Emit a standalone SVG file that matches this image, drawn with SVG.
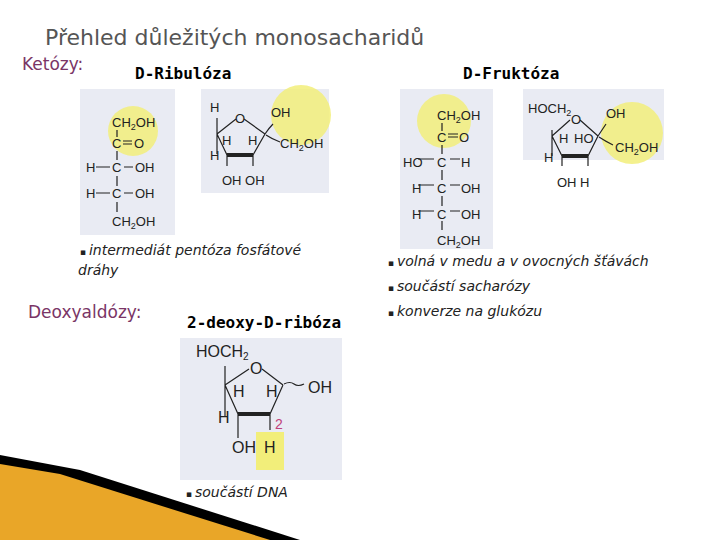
<svg xmlns="http://www.w3.org/2000/svg" width="720" height="540" viewBox="0 0 720 540">
<style>
.c{font-family:"Liberation Sans",Arial,sans-serif;font-size:13px;fill:#222}
.d{font-family:"Liberation Sans",Arial,sans-serif;font-size:16px;fill:#222}
.b{stroke:#222;stroke-width:1.2;fill:none}
.bg{fill:#e9ebf3}
.y{fill:#f2ee7a;opacity:.85}
.h{font-family:"DejaVu Sans Mono",monospace;font-size:16px;font-weight:bold;fill:#000}
.i{font-family:"DejaVu Sans",sans-serif;font-style:italic;font-size:14px;fill:#222}
.k{font-family:"DejaVu Sans",sans-serif;font-size:17px;fill:#7a3566}
</style>
<rect width="720" height="540" fill="#fff"/>
<g id="deco">
<polygon points="0,455 80,470 300,540 0,540" fill="#000"/>
<polygon points="0,464 60,474 270,540 0,540" fill="#e9a628"/>
</g>
<text x="45" y="45" font-family="DejaVu Sans,sans-serif" font-size="22" fill="#555">Přehled důležitých monosacharidů</text>
<text class="k" x="22" y="70">Ketózy:</text>
<text class="h" x="135" y="79">D-Ribulóza</text>
<text class="h" x="463" y="79">D-Fruktóza</text>

<g id="ribulose-fischer">
<rect class="bg" x="80" y="89" width="95" height="146"/>
<circle class="y" cx="133" cy="131" r="25"/>
<text class="c" x="112" y="127">CH<tspan font-size="9" dy="3">2</tspan><tspan dy="-3">OH</tspan></text>
<path class="b" d="M117,130v7M117,151v9M117,176v10M117,202v10M96,167h14M124,167h9M96,193h14M124,193h9M123,141h9M123,144h9"/>
<text class="c" x="112" y="148">C</text><text class="c" x="134" y="148">O</text>
<text class="c" x="86" y="172">H</text><text class="c" x="112" y="172">C</text><text class="c" x="135" y="172">OH</text>
<text class="c" x="86" y="198">H</text><text class="c" x="112" y="198">C</text><text class="c" x="135" y="198">OH</text>
<text class="c" x="112" y="226">CH<tspan font-size="9" dy="3">2</tspan><tspan dy="-3">OH</tspan></text>
</g>

<g id="ribulose-ring">
<rect class="bg" x="201" y="89" width="128" height="104"/>
<circle class="y" cx="301" cy="115" r="30"/>
<path class="b" d="M217,134L236,119M244,119L265,134M217,134L227,155M265,134L253,155M217,118v36M227,155v11M253,155v11M265,134q4,-6 8,-10M266,135q6,4 14,7"/>
<path d="M227,155H253" stroke="#222" stroke-width="4"/>
<text class="c" x="235" y="123">O</text>
<text class="c" x="210" y="112">H</text>
<text class="c" x="210" y="160">H</text>
<text class="c" x="222" y="145">H</text>
<text class="c" x="248" y="145">H</text>
<text class="c" x="271" y="117">OH</text>
<text class="c" x="280" y="148">CH<tspan font-size="9" dy="3">2</tspan><tspan dy="-3">OH</tspan></text>
<text class="c" x="222" y="185">OH OH</text>
</g>

<g id="fructose-fischer">
<rect class="bg" x="400" y="89" width="93" height="160"/>
<circle class="y" cx="444" cy="121" r="27"/>
<text class="c" x="437" y="120">CH<tspan font-size="9" dy="3">2</tspan><tspan dy="-3">OH</tspan></text>
<path class="b" d="M442,123v8M442,145v9M442,170v10M442,196v10M442,221v9M448,134h10M448,137h10M418,159h16M450,159h10M418,185h16M450,185h10M418,211h16M450,211h10"/>
<text class="c" x="437" y="142">C</text><text class="c" x="459" y="142">O</text>
<text class="c" x="403" y="167">HO</text><text class="c" x="437" y="167">C</text><text class="c" x="461" y="167">H</text>
<text class="c" x="412" y="193">H</text><text class="c" x="437" y="193">C</text><text class="c" x="461" y="193">OH</text>
<text class="c" x="412" y="219">H</text><text class="c" x="437" y="219">C</text><text class="c" x="461" y="219">OH</text>
<text class="c" x="437" y="245">CH<tspan font-size="9" dy="3">2</tspan><tspan dy="-3">OH</tspan></text>
</g>

<g id="fructose-ring">
<rect class="bg" x="523" y="89" width="141" height="71"/>
<circle class="y" cx="632" cy="133" r="31"/>
<path class="b" d="M552,136L570,120M580,120L598,136M552,136L562,156M598,136L588,156M552,130v26M562,156v10M588,156v10M598,136q4,-6 8,-12M599,137q6,4 14,8"/>
<path d="M562,156H588" stroke="#222" stroke-width="4"/>
<text class="c" x="528" y="113">HOCH<tspan font-size="9" dy="3">2</tspan></text>
<text class="c" x="571" y="124">O</text>
<text class="c" x="559" y="143">H</text>
<text class="c" x="574" y="143">HO</text>
<text class="c" x="544" y="162">H</text>
<text class="c" x="606" y="118">OH</text>
<text class="c" x="615" y="152">CH<tspan font-size="9" dy="3">2</tspan><tspan dy="-3">OH</tspan></text>
<text class="c" x="557" y="187">OH H</text>
</g>

<text class="i" x="80" y="255"><tspan font-size="9">▪ </tspan>intermediát pentóza fosfátové</text>
<text class="i" x="78" y="275">dráhy</text>
<text class="i" x="388" y="266"><tspan font-size="9">▪ </tspan>volná v medu a v ovocných šťávách</text>
<text class="i" x="388" y="291"><tspan font-size="9">▪ </tspan>součástí sacharózy</text>
<text class="i" x="388" y="316"><tspan font-size="9">▪ </tspan>konverze na glukózu</text>
<text class="k" x="28" y="318">Deoxyaldózy:</text>
<text class="h" x="187" y="328">2-deoxy-D-ribóza</text>

<g id="deoxyribose">
<rect class="bg" x="180" y="338" width="162" height="142"/>
<rect x="256" y="432" width="28" height="38" fill="#f2ee7a"/>
<path class="b" d="M225,385L249,369M262,369L283,385M225,385L238,414M283,385L270,414M225,366v50M238,414v24M270,414v16M284,384q6,-3 10,0t10,0"/>
<path d="M238,414H270" stroke="#222" stroke-width="4"/>
<text class="d" x="196" y="357">HOCH<tspan font-size="10" dy="3">2</tspan></text>
<text class="d" x="250" y="374">O</text>
<text class="d" x="233" y="397">H</text>
<text class="d" x="266" y="397">H</text>
<text class="d" x="218" y="423">H</text>
<text class="d" x="308" y="393">OH</text>
<text font-family="Liberation Sans,sans-serif" font-size="14" fill="#c0407a" x="275" y="429">2</text>
<text class="d" x="232" y="453">OH</text>
<text class="d" x="264" y="453">H</text>
</g>
<text class="i" x="186" y="497"><tspan font-size="9">▪ </tspan>součástí DNA</text>
</svg>
